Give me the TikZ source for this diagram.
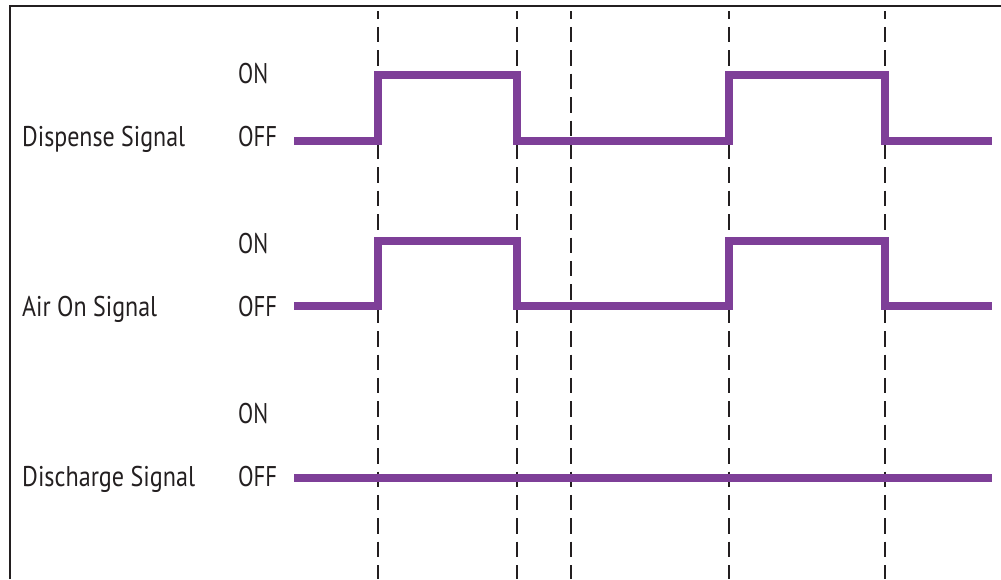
\documentclass[tikz,border=0pt]{standalone}
\usepackage{fontspec}
\setmainfont{PT Sans}
\usepackage{graphicx}
\definecolor{sig}{HTML}{7E3F98}
\definecolor{ink}{HTML}{231F20}
\begin{document}
\begin{tikzpicture}[x=1pt,y=-1pt,
  lbl/.style={anchor=base west, inner sep=0pt, font=\fontsize{28.5}{30}\selectfont, text=ink},
  sigline/.style={draw=sig, line width=8pt, line join=miter},
  gridline/.style={draw=ink, line width=2.2pt, dash pattern=on 15.5pt off 7.9pt, dash phase=7.5pt}]
\useasboundingbox (0,0) rectangle (1001,579);
% frame
\draw[ink, line width=2.2pt] (10,579) -- (10,5.7) -- (1001,5.7);
% timing guides
\foreach \x in {378,517,571,729,885} \draw[gridline] (\x,11) -- (\x,579);
% labels
\node[lbl] (dsp) at (22,146.7) {\resizebox{163pt}{\height}{Dispense Signal}};
\node[lbl] (dspon) at (238,83) {\resizebox{30pt}{\height}{ON}};
\node[lbl] (dspoff) at (238,146.7) {\resizebox{39pt}{\height}{OFF}};
\node[lbl] (air) at (22,316.7) {\resizebox{135pt}{\height}{Air On Signal}};
\node[lbl] (airon) at (238,253) {\resizebox{30pt}{\height}{ON}};
\node[lbl] (airoff) at (238,316.7) {\resizebox{39pt}{\height}{OFF}};
\node[lbl] (dis) at (22,486.7) {\resizebox{173pt}{\height}{Discharge Signal}};
\node[lbl] (dison) at (238,423) {\resizebox{30pt}{\height}{ON}};
\node[lbl] (disoff) at (238,486.7) {\resizebox{39pt}{\height}{OFF}};
% signals
\draw[sigline] (294,141) -- (378,141) -- (378,75) -- (517,75) -- (517,141) -- (729,141) -- (729,75) -- (885,75) -- (885,141) -- (992,141);
\draw[sigline] (294,306) -- (378,306) -- (378,241) -- (517,241) -- (517,306) -- (729,306) -- (729,241) -- (885,241) -- (885,306) -- (992,306);
\draw[sigline] (294,477.5) -- (992,477.5);
\end{tikzpicture}
\end{document}
